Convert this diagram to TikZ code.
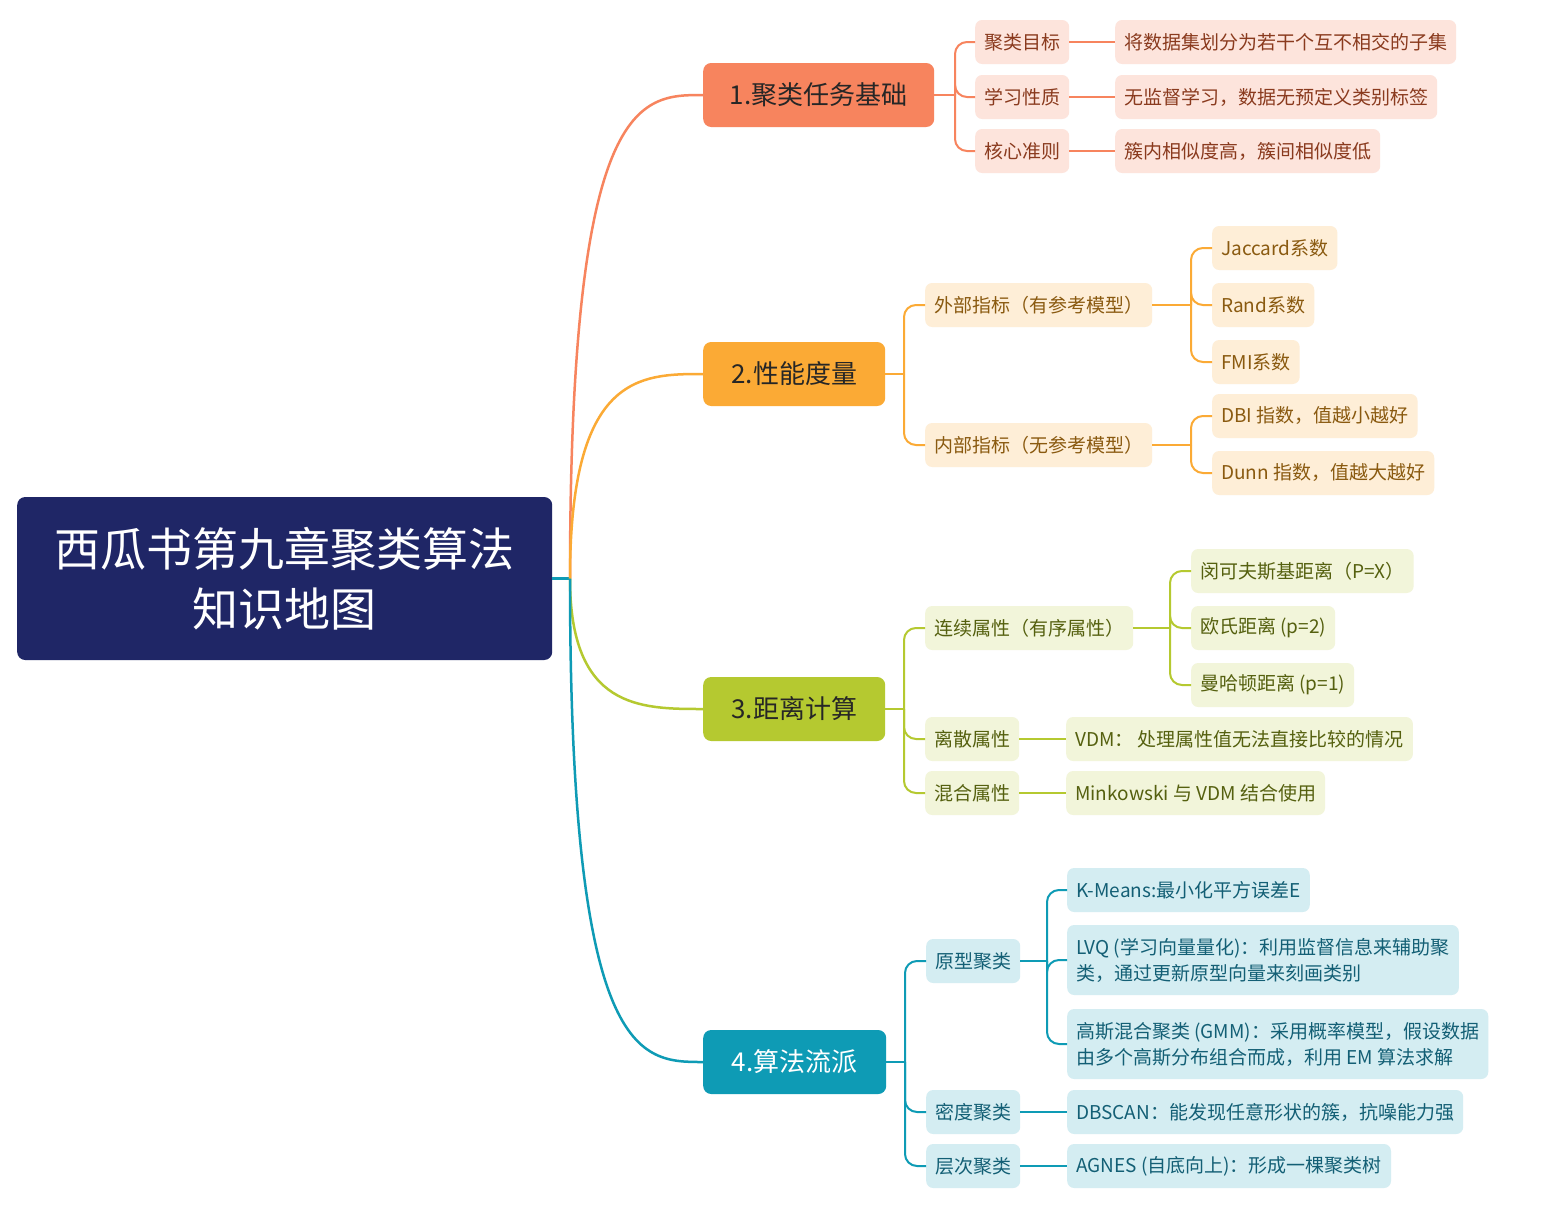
\documentclass[tikz,border=0pt]{standalone}
\usepackage{fontspec}
\setmainfont{Noto Sans CJK SC}
\begin{document}
\begin{tikzpicture}[x=1pt,y=-1pt,
 box/.style={rounded corners=7pt,anchor=west,inner xsep=9pt,inner ysep=0pt,minimum height=44pt,font=\fontsize{19}{26}\selectfont},
 br/.style={rounded corners=8pt,anchor=west,inner xsep=0pt,minimum height=64pt,font=\fontsize{26}{30}\selectfont},
 la/.style={box,fill=cA!22,text=tA},
 lb/.style={box,fill=cB!20,text=tB},
 lc/.style={box,fill=cC!18,text=tC},
 ld/.style={box,fill=cD!18,text=tD},
 con/.style={line width=2pt,rounded corners=12pt}]
\definecolor{cA}{HTML}{F7845E}\definecolor{tA}{HTML}{8A3A1E}
\definecolor{cB}{HTML}{FBAA35}\definecolor{tB}{HTML}{8A5A10}
\definecolor{cC}{HTML}{B5C930}\definecolor{tC}{HTML}{55600F}
\definecolor{cD}{HTML}{0E9BB5}\definecolor{tD}{HTML}{135F75}
\definecolor{navy}{HTML}{1F2666}
\useasboundingbox[fill=white](0,0) rectangle (1545,1205);
\node[fill=navy,rounded corners=8pt,text=white,minimum width=535pt,minimum height=163pt,align=center,font=\fontsize{46}{60}\selectfont,anchor=west] (root) at (17,578.5) {西瓜书第九章聚类算法\\知识地图};
\node[br,fill=cA,minimum width=231pt,text=black!85] (b1) at (703,95) {1.聚类任务基础};
\node[br,fill=cB,minimum width=182pt,text=black!85] (b2) at (703,374) {2.性能度量};
\node[br,fill=cC,minimum width=182pt,text=black!85] (b3) at (703,709) {3.距离计算};
\node[br,fill=cD,minimum width=183pt,text=white] (b4) at (703,1062) {4.算法流派};
\coordinate (r0) at (570,578.5);
\draw[line width=2.5pt,cD] (root.east) -- (r0);
\foreach \b/\c in {b1/cA,b2/cB,b3/cC,b4/cD}{
 \draw[line width=2.5pt,\c] (r0) .. controls (r0|-\b.west) and (640,0|-\b.west) .. (\b.west);}
% branch 1
\node[la] (a1) at (975,42) {聚类目标};
\node[la] (a2) at (975,97) {学习性质};
\node[la] (a3) at (975,151) {核心准则};
\node[la] (a11) at (1115,42) {将数据集划分为若干个互不相交的子集};
\node[la] (a21) at (1115,97) {无监督学习，数据无预定义类别标签};
\node[la] (a31) at (1115,151) {簇内相似度高，簇间相似度低};
\draw[con,cA] (b1.east) -- (955,95);
\foreach \n in {a1,a2,a3}{\draw[con,cA] (955,95) |- (\n.west);}
\foreach \n/\m in {a1/a11,a2/a21,a3/a31}{\draw[line width=2pt,cA] (\n.east) -- (\m.west);}
% branch 2
\node[lb] (e1) at (925,305) {外部指标（有参考模型）};
\node[lb] (e2) at (925,445) {内部指标（无参考模型）};
\node[lb] (j1) at (1212,248) {Jaccard系数};
\node[lb] (j2) at (1212,305) {Rand系数};
\node[lb] (j3) at (1212,362) {FMI系数};
\node[lb] (k1) at (1212,416) {DBI 指数，值越小越好};
\node[lb] (k2) at (1212,473) {Dunn 指数，值越大越好};
\draw[con,cB] (b2.east) -- (904,374);
\foreach \n in {e1,e2}{\draw[con,cB] (904,374) |- (\n.west);}
\draw[con,cB] (e1.east) -- (1191,305);
\foreach \n in {j1,j2,j3}{\draw[con,cB] (1191,305) |- (\n.west);}
\draw[con,cB] (e2.east) -- (1191,445);
\foreach \n in {k1,k2}{\draw[con,cB] (1191,445) |- (\n.west);}
% branch 3
\node[lc] (c1) at (925,628) {连续属性（有序属性）};
\node[lc] (c2) at (925,739) {离散属性};
\node[lc] (c3) at (925,793) {混合属性};
\node[lc] (m1) at (1191,571) {闵可夫斯基距离（P=X）};
\node[lc] (m2) at (1191,628) {欧氏距离 (p=2)};
\node[lc] (m3) at (1191,685) {曼哈顿距离 (p=1)};
\node[lc] (v1) at (1066,739) {VDM： 处理属性值无法直接比较的情况};
\node[lc] (v2) at (1066,793) {Minkowski 与 VDM 结合使用};
\draw[con,cC] (b3.east) -- (904,709);
\foreach \n in {c1,c2,c3}{\draw[con,cC] (904,709) |- (\n.west);}
\draw[con,cC] (c1.east) -- (1170,628);
\foreach \n in {m1,m2,m3}{\draw[con,cC] (1170,628) |- (\n.west);}
\draw[line width=2pt,cC] (c2.east) -- (v1.west);
\draw[line width=2pt,cC] (c3.east) -- (v2.west);
% branch 4
\node[ld] (d1) at (926,961) {原型聚类};
\node[ld] (d2) at (926,1112) {密度聚类};
\node[ld] (d3) at (926,1166) {层次聚类};
\node[ld] (p1) at (1067,890) {K-Means:最小化平方误差E};
\node[ld,align=left,minimum height=70pt] (p2) at (1067,960) {LVQ (学习向量量化)：利用监督信息来辅助聚\\类，通过更新原型向量来刻画类别};
\node[ld,align=left,minimum height=70pt] (p3) at (1067,1044) {高斯混合聚类 (GMM)：采用概率模型，假设数据\\由多个高斯分布组合而成，利用 EM 算法求解};
\node[ld] (q1) at (1067,1112) {DBSCAN：能发现任意形状的簇，抗噪能力强};
\node[ld] (q2) at (1067,1166) {AGNES (自底向上)：形成一棵聚类树};
\draw[con,cD] (b4.east) -- (905,1062);
\foreach \n in {d1,d2,d3}{\draw[con,cD] (905,1062) |- (\n.west);}
\draw[con,cD] (d1.east) -- (1047,961);
\foreach \n in {p1,p2,p3}{\draw[con,cD] (1047,961) |- (\n.west);}
\draw[line width=2pt,cD] (d2.east) -- (q1.west);
\draw[line width=2pt,cD] (d3.east) -- (q2.west);
\end{tikzpicture}
\end{document}
